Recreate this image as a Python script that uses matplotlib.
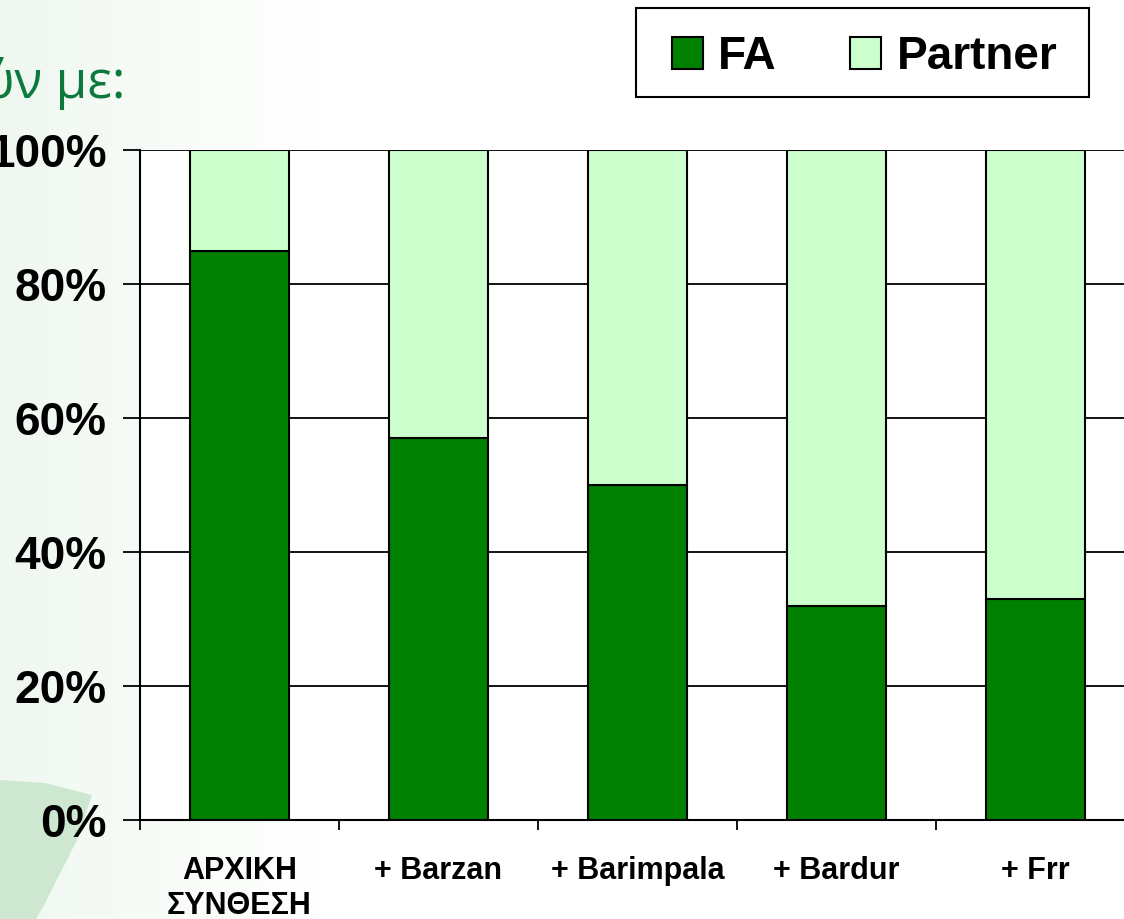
import numpy as np
import matplotlib.pyplot as plt
from matplotlib.patches import Polygon, Rectangle
from matplotlib.ticker import FixedLocator

# ======= Data =======
categories = ["ΑΡΧΙΚΗ\nΣΥΝΘΕΣΗ", "+ Barzan", "+ Barimpala", "+ Bardur", "+ Frr"]
fa_share = [85, 57, 50, 32, 33]
partner_share = [100 - v for v in fa_share]
y_ticks = [0, 20, 40, 60, 80, 100]

dark_green = "#008000"
light_green = "#CCFFCC"

W, H = 1124, 919
fig = plt.figure(figsize=(W / 100, H / 100), dpi=100)

# ======= Slide background (light tint + swoosh) =======
bg = fig.add_axes([0, 0, 1, 1], zorder=-10)
grad = np.linspace(0, 1, 256)
tint = np.clip(1 - grad * 3.5, 0, 1)
img = np.ones((2, 256, 3))
img[:, :, 0] = 1 - 0.06 * tint
img[:, :, 1] = 1 - 0.03 * tint
img[:, :, 2] = 1 - 0.06 * tint
bg.imshow(img, extent=[0, 1, 0, 1], aspect="auto")
swoosh = Polygon([(0, 1 - 780 / H), (45 / W, 1 - 783 / H), (92 / W, 1 - 795 / H),
                  (77 / W, 1 - 840 / H), (43 / W, 1 - 907 / H), (36 / W, 0), (0, 0)],
                 closed=True, facecolor="#CDE7D0", edgecolor="none")
bg.add_patch(swoosh)
# legend frame
bg.add_patch(Rectangle((636 / W, 1 - 97 / H), 453 / W, 89 / H, facecolor="white",
                       edgecolor="black", linewidth=1.5))
bg.set_xlim(0, 1)
bg.set_ylim(0, 1)
bg.axis("off")

fig.text(125 / W, 1 - 98 / H, "ύν με:", color="#0B7A3C", fontsize=37,
         family=["Open Sans", "DejaVu Sans"], ha="right", va="baseline")

# ======= Stacked 100% bars =======
ax = fig.add_axes([140 / W, 1 - 820 / H, 995 / W, 670 / H])
ax.set_facecolor("white")
x = np.arange(len(categories))
b1 = ax.bar(x, fa_share, width=0.5, color=dark_green, edgecolor="black",
            linewidth=1.5, label="FA", zorder=3)
b2 = ax.bar(x, partner_share, width=0.5, bottom=fa_share, color=light_green,
            edgecolor="black", linewidth=1.5, label="Partner", zorder=3)

ax.set_xlim(-0.5, len(categories) - 0.5)
ax.set_ylim(0, 100)
ax.set_yticks(y_ticks)
ax.set_yticklabels([f"{v}%" for v in y_ticks])
ax.yaxis.grid(True, color="black", linewidth=1.3, zorder=0)
ax.set_axisbelow(True)

ax.set_xticks(x)
ax.set_xticklabels(categories)
ax.xaxis.set_minor_locator(FixedLocator(np.arange(-0.5, len(categories), 1.0)))
ax.tick_params(axis="x", which="major", length=0, pad=26)
ax.tick_params(axis="x", which="minor", length=7, width=1.3, direction="out")
ax.tick_params(axis="y", length=12, width=1.3, direction="out", pad=12)

for lab in ax.get_yticklabels():
    lab.set_fontsize(33)
    lab.set_fontweight("bold")
    lab.set_family("Liberation Sans")
for lab in ax.get_xticklabels():
    lab.set_fontsize(22)
    lab.set_fontweight("bold")
    lab.set_family(["Liberation Sans Narrow", "Liberation Sans"])
    lab.set_linespacing(1.2)

for s in ["top", "right"]:
    ax.spines[s].set_visible(False)
for s in ["left", "bottom"]:
    ax.spines[s].set_linewidth(1.5)

leg = fig.legend(handles=[b1, b2], labels=["FA", "Partner"], ncol=2,
                 loc="center left", bbox_to_anchor=(672 / W, 1 - 57 / H),
                 frameon=False,
                 prop={"family": "Liberation Sans", "weight": "bold", "size": 33},
                 handlelength=0.68, handleheight=0.68, handletextpad=0.33,
                 columnspacing=1.6, borderpad=0, borderaxespad=0)

fig.savefig("out.png", dpi=100)
